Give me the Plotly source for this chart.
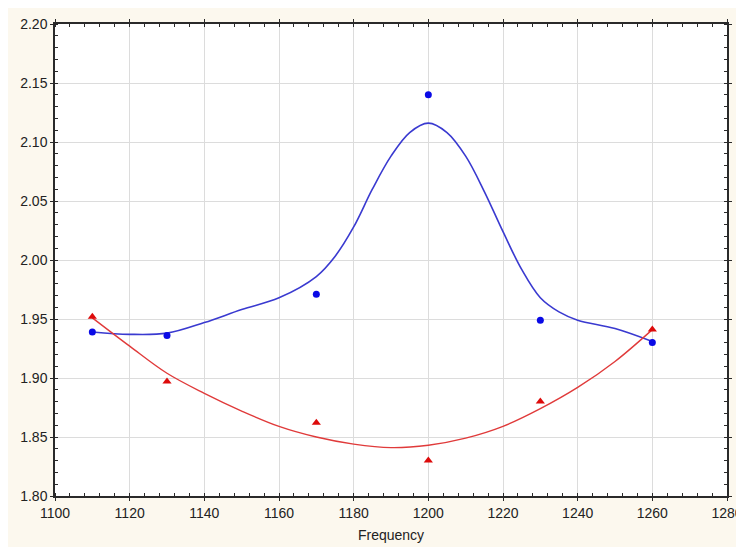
import plotly.graph_objects as go

# Measured points
freq = [1110, 1130, 1170, 1200, 1230, 1260]
blue_vals = [1.939, 1.936, 1.971, 2.140, 1.949, 1.930]
red_vals = [1.952, 1.897, 1.862, 1.830, 1.880, 1.941]

# Fitted curves
blue_curve_x = [1110, 1120, 1130, 1140, 1150, 1160, 1170, 1175, 1180, 1185, 1190, 1195,
                1200, 1205, 1210, 1215, 1220, 1225, 1230, 1235, 1240, 1250, 1260]
blue_curve_y = [1.939, 1.937, 1.938, 1.947, 1.958, 1.968, 1.986, 2.003, 2.028, 2.060, 2.088, 2.108,
                2.116, 2.108, 2.088, 2.058, 2.024, 1.992, 1.968, 1.956, 1.949, 1.942, 1.931]
red_curve_x = [1110, 1120, 1130, 1140, 1150, 1160, 1170, 1180, 1190, 1200, 1210, 1220,
               1230, 1240, 1250, 1260]
red_curve_y = [1.951, 1.927, 1.904, 1.887, 1.872, 1.859, 1.850, 1.844, 1.841, 1.843, 1.849, 1.859,
               1.874, 1.892, 1.914, 1.941]

x_title = "Frequency"

fig = go.Figure()
fig.add_trace(go.Scatter(x=blue_curve_x, y=blue_curve_y, mode="lines",
                         line=dict(color="#3a3ad0", width=1.6, shape="spline", smoothing=1.0),
                         hoverinfo="skip", showlegend=False))
fig.add_trace(go.Scatter(x=red_curve_x, y=red_curve_y, mode="lines",
                         line=dict(color="#e03a3a", width=1.4, shape="spline", smoothing=1.0),
                         hoverinfo="skip", showlegend=False))
fig.add_trace(go.Scatter(x=freq, y=blue_vals, mode="markers",
                         marker=dict(symbol="circle", size=7, color="#0a0ae6"),
                         showlegend=False))
fig.add_trace(go.Scatter(x=freq, y=red_vals, mode="markers",
                         marker=dict(symbol="triangle-up", size=8, color="#dd0a0a"),
                         showlegend=False))

axis_common = dict(
    showline=True, linecolor="#2a2a2a", linewidth=1.5, mirror="ticks",
    showgrid=True, gridcolor="#dcdcdc", gridwidth=1.2,
    ticks="outside", ticklen=3, tickcolor="#2a2a2a", tickwidth=1.2,
    tickfont=dict(family="Liberation Sans, Arial", size=14, color="#222222"),
    zeroline=False,
)

fig.update_xaxes(range=[1100, 1280], dtick=20, tick0=1100,
                 minor=dict(dtick=4, ticks="inside", ticklen=3, tickcolor="#2a2a2a", showgrid=False),
                 title=dict(text=x_title, font=dict(family="Liberation Sans, Arial", size=14, color="#222222"),
                            standoff=11),
                 **axis_common)
fig.update_yaxes(range=[1.80, 2.20], dtick=0.05, tick0=1.80, tickformat=".2f",
                 minor=dict(dtick=0.01, ticks="inside", ticklen=3, tickcolor="#2a2a2a", showgrid=False),
                 **axis_common)

fig.update_layout(
    width=744, height=547,
    margin=dict(l=47, r=25, t=16, b=59, autoexpand=False),
    paper_bgcolor="#fcf8ee", plot_bgcolor="white",
    showlegend=False,
)

fig.write_html("out.html")
